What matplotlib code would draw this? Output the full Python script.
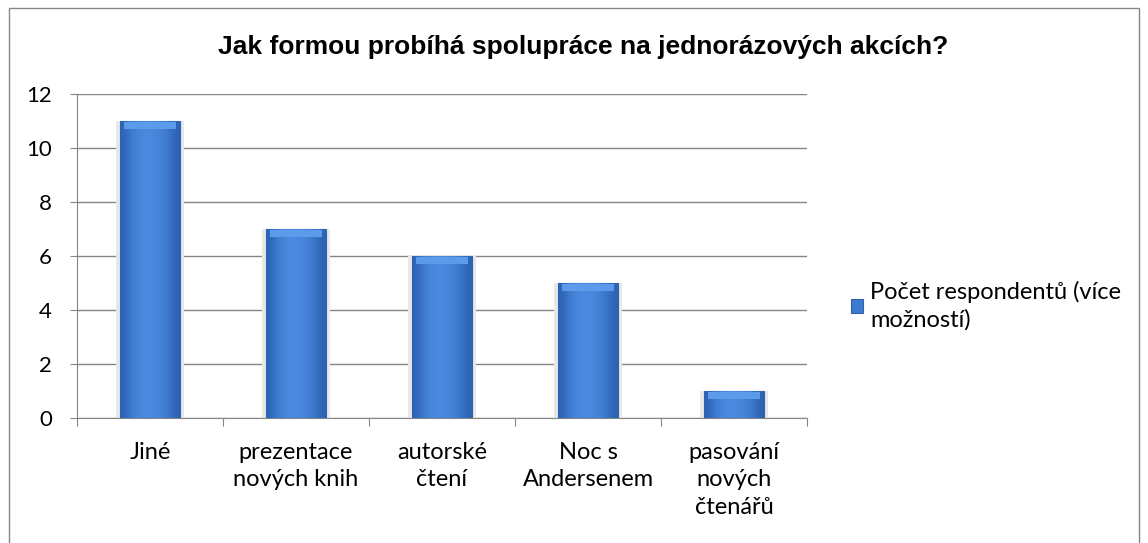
import matplotlib.pyplot as plt
import numpy as np
from matplotlib.patches import Rectangle
from matplotlib.colors import LinearSegmentedColormap

categories = ["Jiné", "prezentace\nnových knih", "autorské\nčtení", "Noc s\nAndersenem", "pasování\nnových\nčtenářů"]
values = [11, 7, 6, 5, 1]
title = "Jak formou probíhá spolupráce na jednorázových akcích?"
series_name = "Počet respondentů (více\nmožností)"

plt.rcParams['font.family'] = ['Lato', 'DejaVu Sans']

fig = plt.figure(figsize=(11.48, 5.43), dpi=100)
ax = fig.add_axes([0.067, 0.230, 0.636, 0.597])

x = list(range(len(values)))
# ombre grise autour des barres
ax.bar(x, values, width=0.47, color='#e8e8e8', zorder=2)
bars = ax.bar(x, values, width=0.41, color='#3d7ad0', edgecolor='#2f62a8', linewidth=0.8, zorder=3,
              label=series_name)
# dégradé horizontal dans chaque barre + biseau clair en haut
grad = np.array([[0.0, 0.6, 0.9, 1.0, 0.95, 0.8, 0.5, 0.0]])
cmap = LinearSegmentedColormap.from_list('b', ['#2d63b3', '#4a8ae0'])
for b in bars:
    x0, w, h = b.get_x(), b.get_width(), b.get_height()
    im = ax.imshow(grad, extent=(x0, x0 + w, 0, h), aspect='auto', zorder=3.5,
                   cmap=cmap, interpolation='bicubic')
    im.set_clip_path(b)
    ax.add_patch(Rectangle((x0 + 0.025, h - 0.3), w - 0.05, 0.27,
                           color='#5c9bea', zorder=4, linewidth=0))

ax.set_xlim(-0.5, len(values) - 0.5)
ax.set_ylim(0, 12)
ax.set_yticks(range(0, 13, 2))
ax.yaxis.grid(True, color='#868686', linewidth=1)
ax.set_axisbelow(True)
for s in ['top', 'right']:
    ax.spines[s].set_visible(False)
ax.spines['left'].set_color('#868686')
ax.spines['bottom'].set_color('#868686')

ax.set_xticks([i + 0.5 for i in range(-1, len(values))], minor=False)
ax.set_xticklabels([])
ax.tick_params(axis='x', length=6, color='#868686')
ax.set_xticks(x, minor=True)
ax.set_xticklabels(categories, minor=True, fontsize=17, linespacing=1.38)
ax.tick_params(axis='x', which='minor', length=0, pad=17)
ax.tick_params(axis='y', length=5, color='#868686', labelsize=16, pad=13)

fig.text(0.508, 0.913, title, fontsize=19, fontweight='bold', family=['Liberation Sans'],
         ha='center', va='center')

leg = fig.legend(loc='upper left', bbox_to_anchor=(0.723, 0.522), frameon=False, fontsize=17,
                 handlelength=0.5, handleheight=0.5, handletextpad=0.3)
leg.get_texts()[0].set_linespacing(1.38)

fig.add_artist(Rectangle((0.008, -0.01), 0.984, 0.995, transform=fig.transFigure,
                         fill=False, edgecolor='#868686', linewidth=1))

plt.savefig('out.png', dpi=100)
